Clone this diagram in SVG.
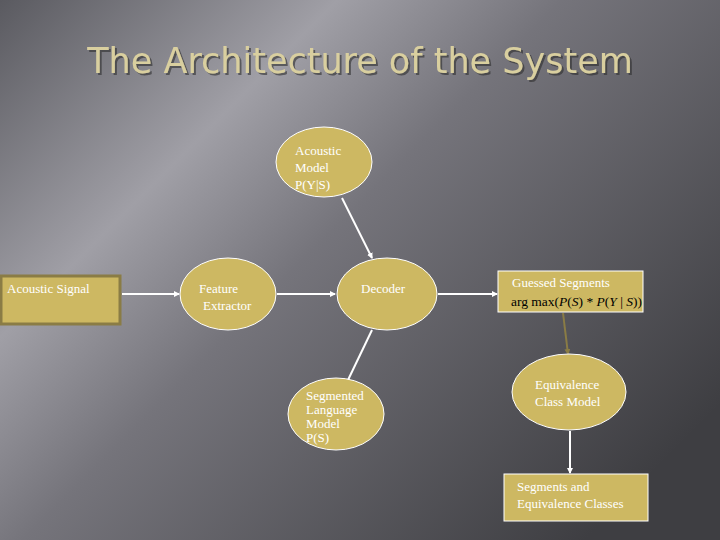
<svg xmlns="http://www.w3.org/2000/svg" width="720" height="540" viewBox="0 0 720 540">
<defs>
<linearGradient id="bg" x1="0" y1="0" x2="1" y2="0.75">
<stop offset="0" stop-color="#5a5a60"/>
<stop offset="0.3" stop-color="#a09fa6"/>
<stop offset="0.5" stop-color="#75747b"/>
<stop offset="1" stop-color="#3e3e42"/>
</linearGradient>
<filter id="sh" x="-5%" y="-20%" width="110%" height="140%"><feDropShadow dx="2" dy="2" stdDeviation="0.5" flood-color="#2a2a2a" flood-opacity="0.6"/></filter>
<marker id="ah" markerWidth="6" markerHeight="6" refX="5" refY="3" orient="auto" markerUnits="userSpaceOnUse"><path d="M0,0L6,3L0,6z" fill="#fff"/></marker>
<marker id="ao" markerWidth="6" markerHeight="6" refX="5" refY="3" orient="auto" markerUnits="userSpaceOnUse"><path d="M0,0L6,3L0,6z" fill="#8a7c45"/></marker>
</defs>
<style>
.n{fill:#cdb862;stroke:#fff;stroke-width:1}
.t{font-family:"Liberation Serif",serif;font-size:13px;fill:#fff}
.c{stroke:#fff;stroke-width:2;fill:none}
</style>
<rect width="720" height="540" fill="url(#bg)"/>
<text x="360" y="73" text-anchor="middle" font-family="DejaVu Sans,sans-serif" font-size="35" fill="#d9cf9f" filter="url(#sh)">The Architecture of the System</text>
<g id="connectors">
<line class="c" x1="122" y1="294" x2="179" y2="294" marker-end="url(#ah)"/>
<line class="c" x1="277" y1="294" x2="335" y2="294" marker-end="url(#ah)"/>
<line class="c" x1="342" y1="198" x2="372" y2="258" marker-end="url(#ah)"/>
<line class="c" x1="348" y1="380" x2="372" y2="330"/>
<line class="c" x1="438" y1="294" x2="497" y2="294" marker-end="url(#ah)"/>
<line x1="563" y1="313" x2="568" y2="354" stroke="#8a7c45" stroke-width="2" marker-end="url(#ao)"/>
<line class="c" x1="570" y1="431" x2="570" y2="473" marker-end="url(#ah)"/>
</g>
<g id="acoustic-signal"><rect x="1" y="276" width="119" height="48" fill="#cdb862" stroke="#8a7c45" stroke-width="3"/><text class="t" x="7" y="293">Acoustic Signal</text></g>
<g id="acoustic-model"><ellipse class="n" cx="324" cy="162" rx="48" ry="35"/><text class="t" x="295" y="155">Acoustic</text><text class="t" x="295" y="172">Model</text><text class="t" x="295" y="189">P(Y|S)</text></g>
<g id="feature-extractor"><ellipse class="n" cx="228" cy="294" rx="48" ry="36"/><text class="t" x="199" y="293">Feature</text><text class="t" x="203" y="310">Extractor</text></g>
<g id="decoder"><ellipse class="n" cx="387" cy="294" rx="50" ry="36"/><text class="t" x="361" y="293">Decoder</text></g>
<g id="language-model"><ellipse class="n" cx="336" cy="414" rx="48" ry="36"/><text class="t" x="306" y="400" font-size="12">Segmented</text><text class="t" x="306" y="414" font-size="12">Language</text><text class="t" x="306" y="428" font-size="12">Model</text><text class="t" x="306" y="442" font-size="12">P(S)</text></g>
<g id="guessed-segments"><rect class="n" x="498" y="271" width="145" height="41"/><text class="t" x="512" y="287">Guessed Segments</text><text x="511" y="306" font-family="Liberation Serif,serif" font-size="13.5" fill="#000">arg max(<tspan font-style="italic">P</tspan>(<tspan font-style="italic">S</tspan>) * <tspan font-style="italic">P</tspan>(<tspan font-style="italic">Y</tspan> | <tspan font-style="italic">S</tspan>))</text></g>
<g id="equivalence-model"><ellipse class="n" cx="569" cy="392" rx="57" ry="38"/><text class="t" x="535" y="389">Equivalence</text><text class="t" x="535" y="406">Class Model</text></g>
<g id="segments-classes"><rect class="n" x="504" y="474" width="144" height="47"/><text class="t" x="517" y="491">Segments and</text><text class="t" x="517" y="508">Equivalence Classes</text></g>
</svg>
